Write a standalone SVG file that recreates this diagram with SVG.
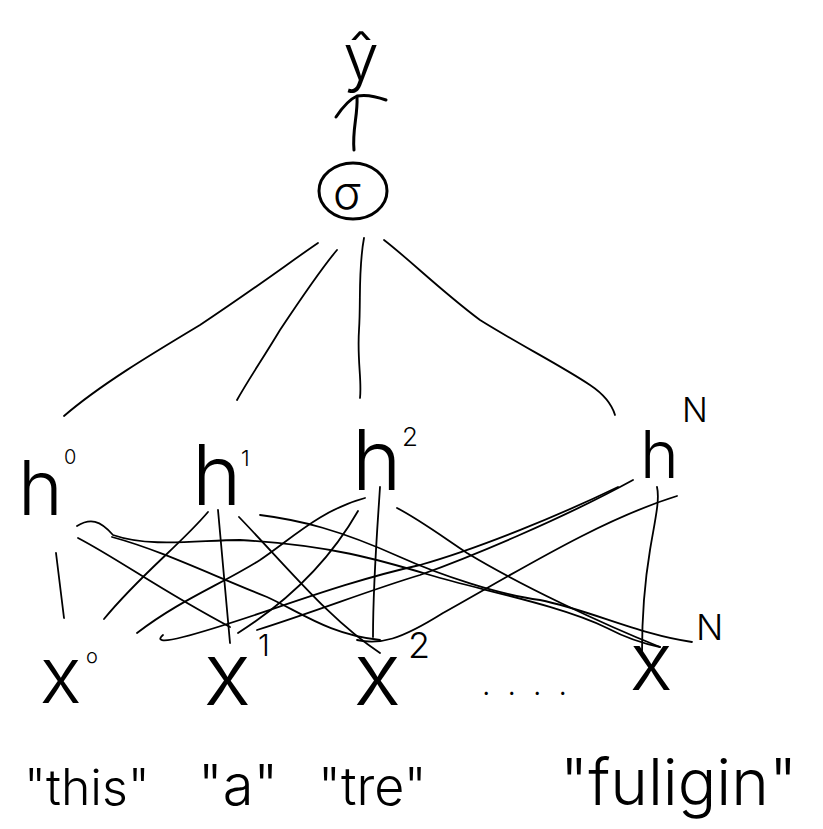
<svg xmlns="http://www.w3.org/2000/svg" width="823" height="829" viewBox="0 0 823 829">
<style>
  .ln{fill:none;stroke:#000;stroke-width:1.8;stroke-linecap:round;stroke-linejoin:round}
  .th{fill:none;stroke:#000;stroke-width:3;stroke-linecap:round;stroke-linejoin:round}
  .t{font-family:Inter,"Liberation Sans",sans-serif;font-weight:300;fill:#000}
</style>
<rect width="823" height="829" fill="#fff"/>
<g id="yhat">
  <text class="t" x="361" y="80" font-size="64" text-anchor="middle">ŷ</text>
</g>
<g id="sigma">
  <ellipse class="th" cx="353" cy="191" rx="34" ry="28"/>
  <text class="t" x="347" y="209" font-size="46" text-anchor="middle">σ</text>
</g>
<g id="h0"><text class="t" x="18" y="515" font-size="76">h</text><text class="t" x="64" y="464" font-size="20">0</text></g>
<g id="h1"><text class="t" x="192" y="505" font-size="84">h</text><text class="t" x="241" y="466" font-size="22">1</text></g>
<g id="h2"><text class="t" x="352" y="490" font-size="84">h</text><text class="t" x="402" y="446" font-size="26">2</text></g>
<g id="hN"><text class="t" x="640" y="478" font-size="66">h</text><text class="t" x="682" y="422" font-size="34">N</text></g>
<g id="x0"><text class="t" x="40" y="703" font-size="78">x</text><text class="t" x="86" y="663" font-size="20">o</text></g>
<g id="x1"><text class="t" x="204" y="705" font-size="88">x</text><text class="t" x="258" y="656" font-size="30">1</text></g>
<g id="x2"><text class="t" x="354" y="705" font-size="88">x</text><text class="t" x="408" y="658" font-size="36">2</text></g>
<g id="dots"><text class="t" x="482" y="695" font-size="30" letter-spacing="17">....</text></g>
<g id="xN"><text class="t" x="630" y="690" font-size="80">x</text><text class="t" x="696" y="640" font-size="36">N</text></g>
<g id="words">
  <text class="t" x="24" y="805" font-size="50">"this"</text>
  <text class="t" x="198" y="805" font-size="56">"a"</text>
  <text class="t" x="318" y="805" font-size="52">"tre"</text>
  <text class="t" x="560" y="805" font-size="64">"fuligin"</text>
</g>
<g id="connectors">
  <path class="th" d="M354,150 C352,130 358,115 357,97"/>
  <path class="th" d="M336,117 C342,108 348,100 357,96 C368,94 378,97 386,100"/>
  <path class="ln" d="M318,243 C290,262 260,285 200,325 C150,355 100,385 64,416"/>
  <path class="ln" d="M337,250 C320,270 300,300 280,330 C262,360 248,380 237,400"/>
  <path class="ln" d="M364,238 C358,270 361,300 359,330 C357,360 362,380 360,398"/>
  <path class="ln" d="M384,240 C410,260 440,290 480,320 C520,345 560,365 590,385 C605,395 612,405 615,415"/>
  <path class="ln" d="M56,553 L64,618"/>
  <path class="ln" d="M208,512 C180,545 140,575 104,619"/>
  <path class="ln" d="M218,510 L230,643"/>
  <path class="ln" d="M239,517 C290,570 330,620 380,653"/>
  <path class="ln" d="M365,498 C320,510 290,540 260,560 C220,585 180,600 137,633"/>
  <path class="ln" d="M358,511 C330,560 290,600 238,633"/>
  <path class="ln" d="M380,487 C378,520 373,580 373,637"/>
  <path class="ln" d="M77,526 C90,518 100,520 113,535 C150,548 200,540 240,540 C330,545 380,560 430,575 C480,590 560,605 607,628 C630,640 650,645 660,647"/>
  <path class="ln" d="M112,537 C160,550 207,573 267,597 C300,612 330,635 380,640"/>
  <path class="ln" d="M78,538 C120,560 160,590 230,627"/>
  <path class="ln" d="M163,635 C157,640 160,643 183,637 C250,620 330,585 420,565 C480,548 560,515 618,487"/>
  <path class="ln" d="M257,630 C320,610 370,590 420,575 C470,557 560,520 633,480"/>
  <path class="ln" d="M260,515 C300,520 340,530 400,557 C440,575 500,595 540,600 C590,610 640,635 692,642"/>
  <path class="ln" d="M397,508 C420,520 440,535 467,553 C520,585 600,623 660,647"/>
  <path class="ln" d="M357,640 C380,645 400,640 443,613 C520,570 600,520 677,496"/>
  <path class="ln" d="M657,487 C660,500 655,520 650,550 C645,580 642,620 642,653"/>
</g>
</svg>
